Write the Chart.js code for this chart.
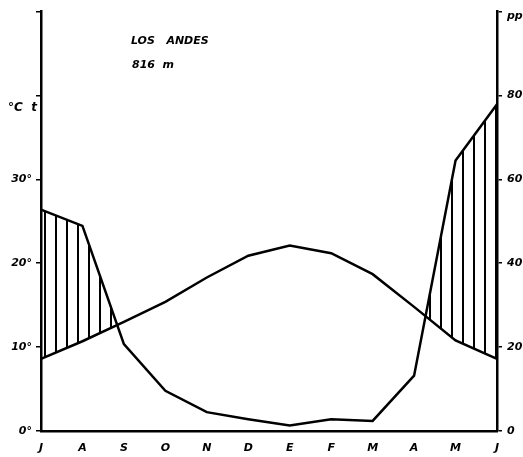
<!DOCTYPE html>
<html>
<head>
<meta charset="utf-8">
<script src="https://cdn.jsdelivr.net/npm/chart.js@4"></script>
<style>
  body { margin: 0; background: #fff; }
  canvas { display: block; }
</style>
</head>
<body>
<canvas id="chart" width="523" height="457"></canvas>
<script>
const months = ['J', 'A', 'S', 'O', 'N', 'D', 'E', 'F', 'M', 'A', 'M', 'J'];
const temperature = [8.6, 10.7, 13.0, 15.4, 18.3, 20.9, 22.1, 21.2, 18.7, 14.8, 10.8, 8.6];
const precipitation = [52.8, 48.9, 20.7, 9.6, 4.5, 2.8, 1.3, 2.8, 2.4, 13.2, 64.5, 77.9];
const station = 'LOS   ANDES';
const altitude = '816  m';

const labelFont = { family: 'DejaVu Sans', size: 11, style: 'italic', weight: 'bold' };

// vertical hatching for the humid months
function makeHatch() {
    let c = document.createElement('canvas');
    c.width = 11;
    c.height = 4;
    let g = c.getContext('2d');
    g.fillStyle = '#000';
    g.fillRect(0, 0, 2, 4);
    return g.createPattern(c, 'repeat');
}

const textPlugin = {
    id: 'texts',
    afterDraw(chart) {
        const ctx = chart.ctx;
        ctx.save();
        ctx.fillStyle = '#000';
        ctx.font = 'italic bold 11px "DejaVu Sans"';
        ctx.textBaseline = 'alphabetic';
        ctx.fillText(station, 131, 44);
        ctx.fillText(altitude, 132, 68);
        ctx.font = 'italic bold 12px "DejaVu Sans"';
        ctx.fillText('°C  t', 8, 111);
        ctx.font = 'italic bold 11px "DejaVu Sans"';
        ctx.fillText('pp', 507, 19);
        ctx.restore();
    }
};

const data = {
    labels: months,
    datasets: [{
        label: 'Temperatura',
        data: temperature,
        yAxisID: 'y',
        borderColor: '#000',
        borderWidth: 2.5,
        pointRadius: 0,
        fill: false
    }, {
        label: 'Precipitación',
        data: precipitation,
        yAxisID: 'y2',
        borderColor: '#000',
        borderWidth: 2.5,
        pointRadius: 0,
        fill: {
            target: 0,
            above: makeHatch(),
            below: 'rgba(0,0,0,0)'
        }
    }]
};

const config = {
    type: 'line',
    data,
    options: {
        responsive: false,
        animation: false,
        layout: {
            padding: { top: 6, left: 0, right: 0, bottom: 0 }
        },
        plugins: {
            legend: { display: false },
            tooltip: { enabled: false }
        },
        scales: {
            x: {
                offset: false,
                grid: { display: false },
                border: { display: true, color: '#000', width: 2.5 },
                ticks: { color: '#000', font: labelFont, padding: 3, maxRotation: 0, autoSkip: false },
                afterFit(s) { s.height = 26; }
            },
            y: {
                position: 'left',
                min: 0,
                max: 50,
                grid: { drawOnChartArea: false, drawTicks: true, tickLength: 5, color: '#000', lineWidth: 1.5 },
                border: { display: true, color: '#000', width: 2.5 },
                ticks: {
                    stepSize: 10,
                    color: '#000',
                    font: labelFont,
                    padding: 4,
                    callback: v => (v >= 40 ? '' : v + '°')
                },
                afterFit(s) { s.width = 41; }
            },
            y2: {
                position: 'right',
                min: 0,
                max: 100,
                grid: { drawOnChartArea: false, drawTicks: true, tickLength: 5, color: '#000', lineWidth: 1.5 },
                border: { display: true, color: '#000', width: 2.5 },
                ticks: {
                    stepSize: 20,
                    color: '#000',
                    font: labelFont,
                    padding: 5,
                    callback: v => (v >= 100 ? '' : v)
                },
                afterFit(s) { s.width = 26; }
            }
        }
    },
    plugins: [textPlugin]
};

new Chart(document.getElementById('chart'), config);
</script>
</body>
</html>
